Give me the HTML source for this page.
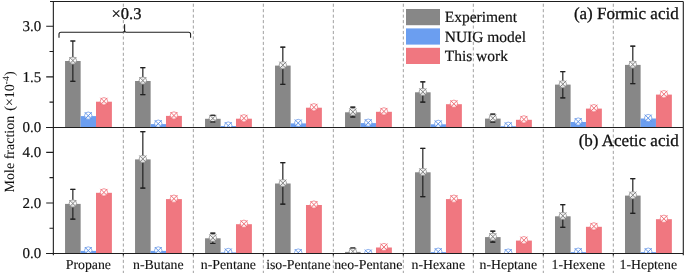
<!DOCTYPE html>
<html><head><meta charset="utf-8"><style>
html,body{margin:0;padding:0;background:#fff;width:685px;height:273px;overflow:hidden}
svg{display:block;will-change:transform}
text{text-rendering:geometricPrecision;font-family:"Liberation Serif",serif;fill:#111;stroke:#111;stroke-width:0.3px}
</style></head><body>
<svg width="685" height="273" viewBox="0 0 685 273">
<defs>
<clipPath id="ct"><rect x="53.35" y="1.50" width="629.95" height="125.95"/></clipPath>
<clipPath id="cb"><rect x="53.35" y="127.45" width="629.95" height="126.00"/></clipPath>
</defs>

<path d="M123.34 3.7V273 M193.34 3.7V273 M263.33 3.7V273 M333.33 3.7V273 M403.32 3.7V273 M473.32 3.7V273 M543.31 3.7V273 M613.31 3.7V273" stroke="#a0a0a0" stroke-width="1" stroke-dasharray="3.1 2.35" fill="none"/>
<g clip-path="url(#ct)">
<rect x="65.05" y="61.00" width="15.60" height="66.45" fill="#878787"/>
<rect x="80.65" y="116.10" width="15.35" height="11.35" fill="#6b9ef0"/>
<rect x="96.00" y="101.70" width="15.90" height="25.75" fill="#f07780"/>
<rect x="135.04" y="81.00" width="15.60" height="46.45" fill="#878787"/>
<rect x="150.64" y="124.10" width="15.35" height="3.35" fill="#6b9ef0"/>
<rect x="165.99" y="115.90" width="15.90" height="11.55" fill="#f07780"/>
<rect x="205.04" y="118.80" width="15.60" height="8.65" fill="#878787"/>
<rect x="220.64" y="126.00" width="15.35" height="1.45" fill="#6b9ef0"/>
<rect x="235.99" y="118.70" width="15.90" height="8.75" fill="#f07780"/>
<rect x="275.03" y="65.60" width="15.60" height="61.85" fill="#878787"/>
<rect x="290.63" y="123.40" width="15.35" height="4.05" fill="#6b9ef0"/>
<rect x="305.98" y="107.70" width="15.90" height="19.75" fill="#f07780"/>
<rect x="345.03" y="112.30" width="15.60" height="15.15" fill="#878787"/>
<rect x="360.63" y="123.10" width="15.35" height="4.35" fill="#6b9ef0"/>
<rect x="375.98" y="111.80" width="15.90" height="15.65" fill="#f07780"/>
<rect x="415.02" y="92.30" width="15.60" height="35.15" fill="#878787"/>
<rect x="430.62" y="124.30" width="15.35" height="3.15" fill="#6b9ef0"/>
<rect x="445.97" y="104.20" width="15.90" height="23.25" fill="#f07780"/>
<rect x="485.02" y="118.60" width="15.60" height="8.85" fill="#878787"/>
<rect x="500.62" y="126.20" width="15.35" height="1.25" fill="#6b9ef0"/>
<rect x="515.97" y="119.80" width="15.90" height="7.65" fill="#f07780"/>
<rect x="555.01" y="84.60" width="15.60" height="42.85" fill="#878787"/>
<rect x="570.61" y="122.00" width="15.35" height="5.45" fill="#6b9ef0"/>
<rect x="585.96" y="108.60" width="15.90" height="18.85" fill="#f07780"/>
<rect x="625.01" y="64.90" width="15.60" height="62.55" fill="#878787"/>
<rect x="640.61" y="118.50" width="15.35" height="8.95" fill="#6b9ef0"/>
<rect x="655.96" y="94.60" width="15.90" height="32.85" fill="#f07780"/>
<path d="M72.85 41.00V81.30M70.35 41.00H75.35M70.35 81.30H75.35" stroke="#222" stroke-width="1.2" fill="none"/>
<circle cx="72.85" cy="60.60" r="3.7" fill="#fff" fill-opacity="0.85" stroke="#808080" stroke-width="0.7"/><path d="M69.35 57.10L76.35 64.10M76.35 57.10L69.35 64.10" stroke="#808080" stroke-width="0.95"/>
<path d="M70.45 41.00H75.25M70.45 81.30H75.25" stroke="#222" stroke-width="1" fill="none"/>
<circle cx="88.25" cy="115.70" r="3.7" fill="#fff" fill-opacity="0.85" stroke="#5b8fe6" stroke-width="0.7"/><path d="M84.75 112.20L91.75 119.20M91.75 112.20L84.75 119.20" stroke="#5b8fe6" stroke-width="0.95"/>
<circle cx="103.95" cy="101.30" r="3.7" fill="#fff" fill-opacity="0.85" stroke="#ee6670" stroke-width="0.7"/><path d="M100.45 97.80L107.45 104.80M107.45 97.80L100.45 104.80" stroke="#ee6670" stroke-width="0.95"/>
<path d="M142.84 67.70V94.60M140.34 67.70H145.34M140.34 94.60H145.34" stroke="#222" stroke-width="1.2" fill="none"/>
<circle cx="142.84" cy="80.60" r="3.7" fill="#fff" fill-opacity="0.85" stroke="#808080" stroke-width="0.7"/><path d="M139.34 77.10L146.34 84.10M146.34 77.10L139.34 84.10" stroke="#808080" stroke-width="0.95"/>
<path d="M140.44 67.70H145.24M140.44 94.60H145.24" stroke="#222" stroke-width="1" fill="none"/>
<circle cx="158.24" cy="123.70" r="3.7" fill="#fff" fill-opacity="0.85" stroke="#5b8fe6" stroke-width="0.7"/><path d="M154.74 120.20L161.74 127.20M161.74 120.20L154.74 127.20" stroke="#5b8fe6" stroke-width="0.95"/>
<circle cx="173.94" cy="115.50" r="3.7" fill="#fff" fill-opacity="0.85" stroke="#ee6670" stroke-width="0.7"/><path d="M170.44 112.00L177.44 119.00M177.44 112.00L170.44 119.00" stroke="#ee6670" stroke-width="0.95"/>
<path d="M212.84 115.40V121.80M210.34 115.40H215.34M210.34 121.80H215.34" stroke="#222" stroke-width="1.2" fill="none"/>
<circle cx="212.84" cy="118.40" r="3.7" fill="#fff" fill-opacity="0.85" stroke="#808080" stroke-width="0.7"/><path d="M209.34 114.90L216.34 121.90M216.34 114.90L209.34 121.90" stroke="#808080" stroke-width="0.95"/>
<path d="M210.44 115.40H215.24M210.44 121.80H215.24" stroke="#222" stroke-width="1" fill="none"/>
<circle cx="228.24" cy="125.60" r="3.7" fill="#fff" fill-opacity="0.85" stroke="#5b8fe6" stroke-width="0.7"/><path d="M224.74 122.10L231.74 129.10M231.74 122.10L224.74 129.10" stroke="#5b8fe6" stroke-width="0.95"/>
<circle cx="243.94" cy="118.30" r="3.7" fill="#fff" fill-opacity="0.85" stroke="#ee6670" stroke-width="0.7"/><path d="M240.44 114.80L247.44 121.80M247.44 114.80L240.44 121.80" stroke="#ee6670" stroke-width="0.95"/>
<path d="M282.83 47.20V84.40M280.33 47.20H285.33M280.33 84.40H285.33" stroke="#222" stroke-width="1.2" fill="none"/>
<circle cx="282.83" cy="65.20" r="3.7" fill="#fff" fill-opacity="0.85" stroke="#808080" stroke-width="0.7"/><path d="M279.33 61.70L286.33 68.70M286.33 61.70L279.33 68.70" stroke="#808080" stroke-width="0.95"/>
<path d="M280.43 47.20H285.23M280.43 84.40H285.23" stroke="#222" stroke-width="1" fill="none"/>
<circle cx="298.23" cy="123.00" r="3.7" fill="#fff" fill-opacity="0.85" stroke="#5b8fe6" stroke-width="0.7"/><path d="M294.73 119.50L301.73 126.50M301.73 119.50L294.73 126.50" stroke="#5b8fe6" stroke-width="0.95"/>
<circle cx="313.93" cy="107.30" r="3.7" fill="#fff" fill-opacity="0.85" stroke="#ee6670" stroke-width="0.7"/><path d="M310.43 103.80L317.43 110.80M317.43 103.80L310.43 110.80" stroke="#ee6670" stroke-width="0.95"/>
<path d="M352.83 107.20V117.00M350.33 107.20H355.33M350.33 117.00H355.33" stroke="#222" stroke-width="1.2" fill="none"/>
<circle cx="352.83" cy="111.90" r="3.7" fill="#fff" fill-opacity="0.85" stroke="#808080" stroke-width="0.7"/><path d="M349.33 108.40L356.33 115.40M356.33 108.40L349.33 115.40" stroke="#808080" stroke-width="0.95"/>
<path d="M350.43 107.20H355.23M350.43 117.00H355.23" stroke="#222" stroke-width="1" fill="none"/>
<circle cx="368.23" cy="122.70" r="3.7" fill="#fff" fill-opacity="0.85" stroke="#5b8fe6" stroke-width="0.7"/><path d="M364.73 119.20L371.73 126.20M371.73 119.20L364.73 126.20" stroke="#5b8fe6" stroke-width="0.95"/>
<circle cx="383.93" cy="111.40" r="3.7" fill="#fff" fill-opacity="0.85" stroke="#ee6670" stroke-width="0.7"/><path d="M380.43 107.90L387.43 114.90M387.43 107.90L380.43 114.90" stroke="#ee6670" stroke-width="0.95"/>
<path d="M422.82 81.80V102.10M420.32 81.80H425.32M420.32 102.10H425.32" stroke="#222" stroke-width="1.2" fill="none"/>
<circle cx="422.82" cy="91.90" r="3.7" fill="#fff" fill-opacity="0.85" stroke="#808080" stroke-width="0.7"/><path d="M419.32 88.40L426.32 95.40M426.32 88.40L419.32 95.40" stroke="#808080" stroke-width="0.95"/>
<path d="M420.42 81.80H425.22M420.42 102.10H425.22" stroke="#222" stroke-width="1" fill="none"/>
<circle cx="438.22" cy="123.90" r="3.7" fill="#fff" fill-opacity="0.85" stroke="#5b8fe6" stroke-width="0.7"/><path d="M434.72 120.40L441.72 127.40M441.72 120.40L434.72 127.40" stroke="#5b8fe6" stroke-width="0.95"/>
<circle cx="453.92" cy="103.80" r="3.7" fill="#fff" fill-opacity="0.85" stroke="#ee6670" stroke-width="0.7"/><path d="M450.42 100.30L457.42 107.30M457.42 100.30L450.42 107.30" stroke="#ee6670" stroke-width="0.95"/>
<path d="M492.82 114.20V122.00M490.32 114.20H495.32M490.32 122.00H495.32" stroke="#222" stroke-width="1.2" fill="none"/>
<circle cx="492.82" cy="118.20" r="3.7" fill="#fff" fill-opacity="0.85" stroke="#808080" stroke-width="0.7"/><path d="M489.32 114.70L496.32 121.70M496.32 114.70L489.32 121.70" stroke="#808080" stroke-width="0.95"/>
<path d="M490.42 114.20H495.22M490.42 122.00H495.22" stroke="#222" stroke-width="1" fill="none"/>
<circle cx="508.22" cy="125.80" r="3.7" fill="#fff" fill-opacity="0.85" stroke="#5b8fe6" stroke-width="0.7"/><path d="M504.72 122.30L511.72 129.30M511.72 122.30L504.72 129.30" stroke="#5b8fe6" stroke-width="0.95"/>
<circle cx="523.92" cy="119.40" r="3.7" fill="#fff" fill-opacity="0.85" stroke="#ee6670" stroke-width="0.7"/><path d="M520.42 115.90L527.42 122.90M527.42 115.90L520.42 122.90" stroke="#ee6670" stroke-width="0.95"/>
<path d="M562.81 71.60V97.90M560.31 71.60H565.31M560.31 97.90H565.31" stroke="#222" stroke-width="1.2" fill="none"/>
<circle cx="562.81" cy="84.20" r="3.7" fill="#fff" fill-opacity="0.85" stroke="#808080" stroke-width="0.7"/><path d="M559.31 80.70L566.31 87.70M566.31 80.70L559.31 87.70" stroke="#808080" stroke-width="0.95"/>
<path d="M560.41 71.60H565.21M560.41 97.90H565.21" stroke="#222" stroke-width="1" fill="none"/>
<circle cx="578.21" cy="121.60" r="3.7" fill="#fff" fill-opacity="0.85" stroke="#5b8fe6" stroke-width="0.7"/><path d="M574.71 118.10L581.71 125.10M581.71 118.10L574.71 125.10" stroke="#5b8fe6" stroke-width="0.95"/>
<circle cx="593.91" cy="108.20" r="3.7" fill="#fff" fill-opacity="0.85" stroke="#ee6670" stroke-width="0.7"/><path d="M590.41 104.70L597.41 111.70M597.41 104.70L590.41 111.70" stroke="#ee6670" stroke-width="0.95"/>
<path d="M632.81 46.20V83.60M630.31 46.20H635.31M630.31 83.60H635.31" stroke="#222" stroke-width="1.2" fill="none"/>
<circle cx="632.81" cy="64.50" r="3.7" fill="#fff" fill-opacity="0.85" stroke="#808080" stroke-width="0.7"/><path d="M629.31 61.00L636.31 68.00M636.31 61.00L629.31 68.00" stroke="#808080" stroke-width="0.95"/>
<path d="M630.41 46.20H635.21M630.41 83.60H635.21" stroke="#222" stroke-width="1" fill="none"/>
<circle cx="648.21" cy="118.10" r="3.7" fill="#fff" fill-opacity="0.85" stroke="#5b8fe6" stroke-width="0.7"/><path d="M644.71 114.60L651.71 121.60M651.71 114.60L644.71 121.60" stroke="#5b8fe6" stroke-width="0.95"/>
<circle cx="663.91" cy="94.20" r="3.7" fill="#fff" fill-opacity="0.85" stroke="#ee6670" stroke-width="0.7"/><path d="M660.41 90.70L667.41 97.70M667.41 90.70L660.41 97.70" stroke="#ee6670" stroke-width="0.95"/>
</g>
<g clip-path="url(#cb)">
<rect x="65.05" y="203.90" width="15.60" height="49.55" fill="#878787"/>
<rect x="80.65" y="250.90" width="15.35" height="2.55" fill="#6b9ef0"/>
<rect x="96.00" y="192.80" width="15.90" height="60.65" fill="#f07780"/>
<rect x="135.04" y="159.40" width="15.60" height="94.05" fill="#878787"/>
<rect x="150.64" y="250.90" width="15.35" height="2.55" fill="#6b9ef0"/>
<rect x="165.99" y="199.10" width="15.90" height="54.35" fill="#f07780"/>
<rect x="205.04" y="238.30" width="15.60" height="15.15" fill="#878787"/>
<rect x="220.64" y="252.40" width="15.35" height="1.05" fill="#6b9ef0"/>
<rect x="235.99" y="224.20" width="15.90" height="29.25" fill="#f07780"/>
<rect x="275.03" y="183.50" width="15.60" height="69.95" fill="#878787"/>
<rect x="290.63" y="253.00" width="15.35" height="0.45" fill="#6b9ef0"/>
<rect x="305.98" y="205.00" width="15.90" height="48.45" fill="#f07780"/>
<rect x="345.03" y="251.90" width="15.60" height="1.55" fill="#878787"/>
<rect x="360.63" y="253.50" width="15.35" height="-0.05" fill="#6b9ef0"/>
<rect x="375.98" y="247.50" width="15.90" height="5.95" fill="#f07780"/>
<rect x="415.02" y="172.30" width="15.60" height="81.15" fill="#878787"/>
<rect x="430.62" y="252.10" width="15.35" height="1.35" fill="#6b9ef0"/>
<rect x="445.97" y="199.10" width="15.90" height="54.35" fill="#f07780"/>
<rect x="485.02" y="237.10" width="15.60" height="16.35" fill="#878787"/>
<rect x="500.62" y="253.00" width="15.35" height="0.45" fill="#6b9ef0"/>
<rect x="515.97" y="240.60" width="15.90" height="12.85" fill="#f07780"/>
<rect x="555.01" y="216.30" width="15.60" height="37.15" fill="#878787"/>
<rect x="570.61" y="252.10" width="15.35" height="1.35" fill="#6b9ef0"/>
<rect x="585.96" y="226.80" width="15.90" height="26.65" fill="#f07780"/>
<rect x="625.01" y="195.60" width="15.60" height="57.85" fill="#878787"/>
<rect x="640.61" y="252.10" width="15.35" height="1.35" fill="#6b9ef0"/>
<rect x="655.96" y="219.20" width="15.90" height="34.25" fill="#f07780"/>
<path d="M72.85 189.40V219.20M70.35 189.40H75.35M70.35 219.20H75.35" stroke="#222" stroke-width="1.2" fill="none"/>
<circle cx="72.85" cy="203.50" r="3.7" fill="#fff" fill-opacity="0.85" stroke="#808080" stroke-width="0.7"/><path d="M69.35 200.00L76.35 207.00M76.35 200.00L69.35 207.00" stroke="#808080" stroke-width="0.95"/>
<path d="M70.45 189.40H75.25M70.45 219.20H75.25" stroke="#222" stroke-width="1" fill="none"/>
<circle cx="88.25" cy="250.50" r="3.7" fill="#fff" fill-opacity="0.85" stroke="#5b8fe6" stroke-width="0.7"/><path d="M84.75 247.00L91.75 254.00M91.75 247.00L84.75 254.00" stroke="#5b8fe6" stroke-width="0.95"/>
<circle cx="103.95" cy="192.40" r="3.7" fill="#fff" fill-opacity="0.85" stroke="#ee6670" stroke-width="0.7"/><path d="M100.45 188.90L107.45 195.90M107.45 188.90L100.45 195.90" stroke="#ee6670" stroke-width="0.95"/>
<path d="M142.84 131.70V188.10M140.34 131.70H145.34M140.34 188.10H145.34" stroke="#222" stroke-width="1.2" fill="none"/>
<circle cx="142.84" cy="159.00" r="3.7" fill="#fff" fill-opacity="0.85" stroke="#808080" stroke-width="0.7"/><path d="M139.34 155.50L146.34 162.50M146.34 155.50L139.34 162.50" stroke="#808080" stroke-width="0.95"/>
<path d="M140.44 131.70H145.24M140.44 188.10H145.24" stroke="#222" stroke-width="1" fill="none"/>
<circle cx="158.24" cy="250.50" r="3.7" fill="#fff" fill-opacity="0.85" stroke="#5b8fe6" stroke-width="0.7"/><path d="M154.74 247.00L161.74 254.00M161.74 247.00L154.74 254.00" stroke="#5b8fe6" stroke-width="0.95"/>
<circle cx="173.94" cy="198.70" r="3.7" fill="#fff" fill-opacity="0.85" stroke="#ee6670" stroke-width="0.7"/><path d="M170.44 195.20L177.44 202.20M177.44 195.20L170.44 202.20" stroke="#ee6670" stroke-width="0.95"/>
<path d="M212.84 233.20V243.50M210.34 233.20H215.34M210.34 243.50H215.34" stroke="#222" stroke-width="1.2" fill="none"/>
<circle cx="212.84" cy="237.90" r="3.7" fill="#fff" fill-opacity="0.85" stroke="#808080" stroke-width="0.7"/><path d="M209.34 234.40L216.34 241.40M216.34 234.40L209.34 241.40" stroke="#808080" stroke-width="0.95"/>
<path d="M210.44 233.20H215.24M210.44 243.50H215.24" stroke="#222" stroke-width="1" fill="none"/>
<circle cx="228.24" cy="252.00" r="3.7" fill="#fff" fill-opacity="0.85" stroke="#5b8fe6" stroke-width="0.7"/><path d="M224.74 248.50L231.74 255.50M231.74 248.50L224.74 255.50" stroke="#5b8fe6" stroke-width="0.95"/>
<circle cx="243.94" cy="223.80" r="3.7" fill="#fff" fill-opacity="0.85" stroke="#ee6670" stroke-width="0.7"/><path d="M240.44 220.30L247.44 227.30M247.44 220.30L240.44 227.30" stroke="#ee6670" stroke-width="0.95"/>
<path d="M282.83 162.70V204.20M280.33 162.70H285.33M280.33 204.20H285.33" stroke="#222" stroke-width="1.2" fill="none"/>
<circle cx="282.83" cy="183.10" r="3.7" fill="#fff" fill-opacity="0.85" stroke="#808080" stroke-width="0.7"/><path d="M279.33 179.60L286.33 186.60M286.33 179.60L279.33 186.60" stroke="#808080" stroke-width="0.95"/>
<path d="M280.43 162.70H285.23M280.43 204.20H285.23" stroke="#222" stroke-width="1" fill="none"/>
<circle cx="298.23" cy="252.60" r="3.7" fill="#fff" fill-opacity="0.85" stroke="#5b8fe6" stroke-width="0.7"/><path d="M294.73 249.10L301.73 256.10M301.73 249.10L294.73 256.10" stroke="#5b8fe6" stroke-width="0.95"/>
<circle cx="313.93" cy="204.60" r="3.7" fill="#fff" fill-opacity="0.85" stroke="#ee6670" stroke-width="0.7"/><path d="M310.43 201.10L317.43 208.10M317.43 201.10L310.43 208.10" stroke="#ee6670" stroke-width="0.95"/>
<path d="M352.83 248.00V254.50M350.33 248.00H355.33M350.33 254.50H355.33" stroke="#222" stroke-width="1.2" fill="none"/>
<circle cx="352.83" cy="251.50" r="3.7" fill="#fff" fill-opacity="0.85" stroke="#808080" stroke-width="0.7"/><path d="M349.33 248.00L356.33 255.00M356.33 248.00L349.33 255.00" stroke="#808080" stroke-width="0.95"/>
<path d="M350.43 248.00H355.23M350.43 254.50H355.23" stroke="#222" stroke-width="1" fill="none"/>
<circle cx="368.23" cy="253.10" r="3.7" fill="#fff" fill-opacity="0.85" stroke="#5b8fe6" stroke-width="0.7"/><path d="M364.73 249.60L371.73 256.60M371.73 249.60L364.73 256.60" stroke="#5b8fe6" stroke-width="0.95"/>
<circle cx="383.93" cy="247.10" r="3.7" fill="#fff" fill-opacity="0.85" stroke="#ee6670" stroke-width="0.7"/><path d="M380.43 243.60L387.43 250.60M387.43 243.60L380.43 250.60" stroke="#ee6670" stroke-width="0.95"/>
<path d="M422.82 148.40V196.70M420.32 148.40H425.32M420.32 196.70H425.32" stroke="#222" stroke-width="1.2" fill="none"/>
<circle cx="422.82" cy="171.90" r="3.7" fill="#fff" fill-opacity="0.85" stroke="#808080" stroke-width="0.7"/><path d="M419.32 168.40L426.32 175.40M426.32 168.40L419.32 175.40" stroke="#808080" stroke-width="0.95"/>
<path d="M420.42 148.40H425.22M420.42 196.70H425.22" stroke="#222" stroke-width="1" fill="none"/>
<circle cx="438.22" cy="251.70" r="3.7" fill="#fff" fill-opacity="0.85" stroke="#5b8fe6" stroke-width="0.7"/><path d="M434.72 248.20L441.72 255.20M441.72 248.20L434.72 255.20" stroke="#5b8fe6" stroke-width="0.95"/>
<circle cx="453.92" cy="198.70" r="3.7" fill="#fff" fill-opacity="0.85" stroke="#ee6670" stroke-width="0.7"/><path d="M450.42 195.20L457.42 202.20M457.42 195.20L450.42 202.20" stroke="#ee6670" stroke-width="0.95"/>
<path d="M492.82 231.20V242.10M490.32 231.20H495.32M490.32 242.10H495.32" stroke="#222" stroke-width="1.2" fill="none"/>
<circle cx="492.82" cy="236.70" r="3.7" fill="#fff" fill-opacity="0.85" stroke="#808080" stroke-width="0.7"/><path d="M489.32 233.20L496.32 240.20M496.32 233.20L489.32 240.20" stroke="#808080" stroke-width="0.95"/>
<path d="M490.42 231.20H495.22M490.42 242.10H495.22" stroke="#222" stroke-width="1" fill="none"/>
<circle cx="508.22" cy="252.60" r="3.7" fill="#fff" fill-opacity="0.85" stroke="#5b8fe6" stroke-width="0.7"/><path d="M504.72 249.10L511.72 256.10M511.72 249.10L504.72 256.10" stroke="#5b8fe6" stroke-width="0.95"/>
<circle cx="523.92" cy="240.20" r="3.7" fill="#fff" fill-opacity="0.85" stroke="#ee6670" stroke-width="0.7"/><path d="M520.42 236.70L527.42 243.70M527.42 236.70L520.42 243.70" stroke="#ee6670" stroke-width="0.95"/>
<path d="M562.81 204.70V227.30M560.31 204.70H565.31M560.31 227.30H565.31" stroke="#222" stroke-width="1.2" fill="none"/>
<circle cx="562.81" cy="215.90" r="3.7" fill="#fff" fill-opacity="0.85" stroke="#808080" stroke-width="0.7"/><path d="M559.31 212.40L566.31 219.40M566.31 212.40L559.31 219.40" stroke="#808080" stroke-width="0.95"/>
<path d="M560.41 204.70H565.21M560.41 227.30H565.21" stroke="#222" stroke-width="1" fill="none"/>
<circle cx="578.21" cy="251.70" r="3.7" fill="#fff" fill-opacity="0.85" stroke="#5b8fe6" stroke-width="0.7"/><path d="M574.71 248.20L581.71 255.20M581.71 248.20L574.71 255.20" stroke="#5b8fe6" stroke-width="0.95"/>
<circle cx="593.91" cy="226.40" r="3.7" fill="#fff" fill-opacity="0.85" stroke="#ee6670" stroke-width="0.7"/><path d="M590.41 222.90L597.41 229.90M597.41 222.90L590.41 229.90" stroke="#ee6670" stroke-width="0.95"/>
<path d="M632.81 178.70V213.30M630.31 178.70H635.31M630.31 213.30H635.31" stroke="#222" stroke-width="1.2" fill="none"/>
<circle cx="632.81" cy="195.20" r="3.7" fill="#fff" fill-opacity="0.85" stroke="#808080" stroke-width="0.7"/><path d="M629.31 191.70L636.31 198.70M636.31 191.70L629.31 198.70" stroke="#808080" stroke-width="0.95"/>
<path d="M630.41 178.70H635.21M630.41 213.30H635.21" stroke="#222" stroke-width="1" fill="none"/>
<circle cx="648.21" cy="251.70" r="3.7" fill="#fff" fill-opacity="0.85" stroke="#5b8fe6" stroke-width="0.7"/><path d="M644.71 248.20L651.71 255.20M651.71 248.20L644.71 255.20" stroke="#5b8fe6" stroke-width="0.95"/>
<circle cx="663.91" cy="218.80" r="3.7" fill="#fff" fill-opacity="0.85" stroke="#ee6670" stroke-width="0.7"/><path d="M660.41 215.30L667.41 222.30M667.41 215.30L660.41 222.30" stroke="#ee6670" stroke-width="0.95"/>
</g>
<path d="M50 1.5H683.3 M53.35 1.5V255.2 M683.3 1.5V255.2 M46.2 127.45H683.3 M46.2 253.45H683.3" stroke="#1e1e1e" stroke-width="1.1" fill="none"/>
<text x="41.3" y="31.10" font-size="15" text-anchor="end" style="stroke-width:0.2px">3.0</text>
<text x="41.3" y="81.73" font-size="15" text-anchor="end" style="stroke-width:0.2px">1.5</text>
<text x="41.3" y="132.35" font-size="15" text-anchor="end" style="stroke-width:0.2px">0.0</text>
<text x="41.3" y="157.30" font-size="15" text-anchor="end" style="stroke-width:0.2px">4.0</text>
<text x="41.3" y="207.83" font-size="15" text-anchor="end" style="stroke-width:0.2px">2.0</text>
<text x="41.3" y="258.35" font-size="15" text-anchor="end" style="stroke-width:0.2px">0.0</text>
<path d="M46.2 26.20H53.35 M46.2 76.83H53.35 M46.2 127.45H53.35 M49.5 102.14H53.35 M49.5 51.51H53.35 M46.2 152.40H53.35 M46.2 202.93H53.35 M46.2 253.45H53.35 M49.5 177.66H53.35 M49.5 228.19H53.35" stroke="#1e1e1e" stroke-width="1.1"/>
<text x="88.35" y="268.9" font-size="13.8" text-anchor="middle" style="stroke-width:0.12px">Propane</text>
<text x="158.34" y="268.9" font-size="13.8" text-anchor="middle" style="stroke-width:0.12px">n-Butane</text>
<text x="228.34" y="268.9" font-size="13.8" text-anchor="middle" style="stroke-width:0.12px">n-Pentane</text>
<text x="298.33" y="268.9" font-size="13.8" text-anchor="middle" style="stroke-width:0.12px">iso-Pentane</text>
<text x="368.32" y="268.9" font-size="13.8" text-anchor="middle" style="stroke-width:0.12px">neo-Pentane</text>
<text x="438.32" y="268.9" font-size="13.8" text-anchor="middle" style="stroke-width:0.12px">n-Hexane</text>
<text x="508.31" y="268.9" font-size="13.8" text-anchor="middle" style="stroke-width:0.12px">n-Heptane</text>
<text x="578.31" y="268.9" font-size="13.8" text-anchor="middle" style="stroke-width:0.12px">1-Hexene</text>
<text x="648.30" y="268.9" font-size="13.8" text-anchor="middle" style="stroke-width:0.12px">1-Heptene</text>
<path d="M123.34 253.45V255.6 M193.34 253.45V255.6 M263.33 253.45V255.6 M333.33 253.45V255.6 M403.32 253.45V255.6 M473.32 253.45V255.6 M543.31 253.45V255.6 M613.31 253.45V255.6" stroke="#1e1e1e" stroke-width="1.1"/>
<text x="678.7" y="19.2" font-size="17" text-anchor="end">(a) Formic acid</text>
<text x="678.7" y="145.6" font-size="17" text-anchor="end">(b) Acetic acid</text>
<rect x="406" y="9.00" width="34" height="16.2" fill="#878787"/>
<text x="444.7" y="22.30" font-size="15.5" style="stroke-width:0.2px">Experiment</text>
<rect x="406" y="28.40" width="34" height="16.2" fill="#6b9ef0"/>
<text x="444.7" y="41.70" font-size="15.5" style="stroke-width:0.2px">NUIG model</text>
<rect x="406" y="47.80" width="34" height="16.2" fill="#f07780"/>
<text x="444.7" y="61.10" font-size="15.5" style="stroke-width:0.2px">This work</text>
<text x="111.5" y="19.4" font-size="16.5">×0.3</text>
<path d="M59 37.8V34.2Q59 32.2 61 32.2H123Q124.6 32.2 124.6 30.5V24.2M124.6 30.5Q124.6 32.2 126.2 32.2H188.6Q190.6 32.2 190.6 34.2V37.8" stroke="#1e1e1e" stroke-width="1.1" fill="none"/>
<text transform="translate(14.3,192.4) rotate(-90)" font-size="14" style="stroke-width:0.05px">Mole fraction <tspan dx="1.6">(×10</tspan><tspan dy="-5.5" font-size="9.5">-4</tspan><tspan dy="5.5" dx="0.3">)</tspan></text>
</svg></body></html>
